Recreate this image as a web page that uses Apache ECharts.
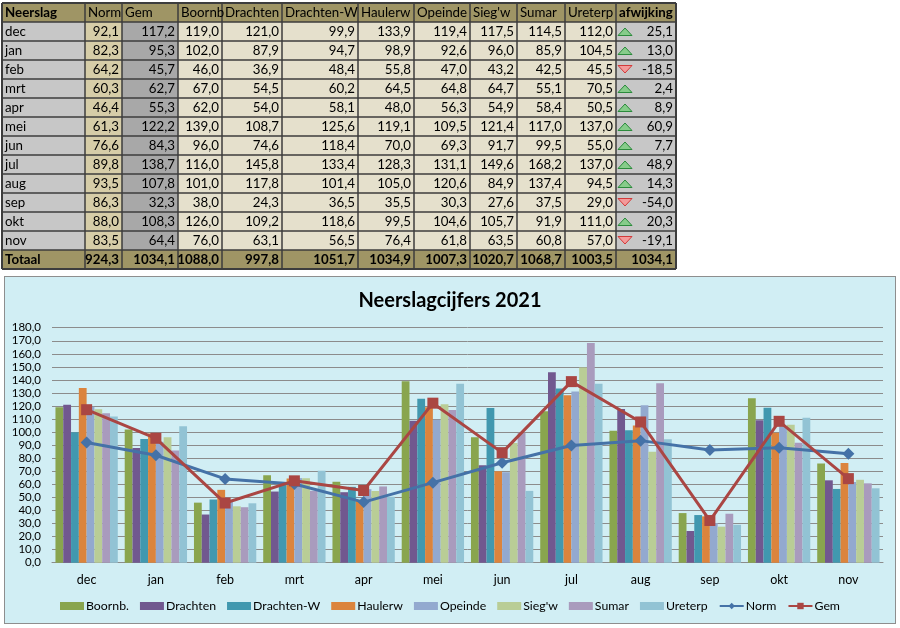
<!DOCTYPE html>
<html>
<head>
<meta charset="utf-8">
<script src="https://cdn.jsdelivr.net/npm/echarts@6/dist/echarts.min.js"></script>
<style>
  html, body { margin: 0; padding: 0; background: #ffffff; }
  #table { position: absolute; left: 0; top: 0; width: 900px; height: 274px; }
  #chart { position: absolute; left: 4px; top: 276px; width: 892px; height: 348px;
           box-sizing: border-box; border: 1px solid #8e8e8e; background: #d1eef4; }
</style>
</head>
<body>
<div id="table"></div>
<div id="chart"></div>
<script>
// ---------- data ----------
const months = ['dec','jan','feb','mrt','apr','mei','jun','jul','aug','sep','okt','nov'];
const norm      = [92.1, 82.3, 64.2, 60.3, 46.4, 61.3, 76.6, 89.8, 93.5, 86.3, 88.0, 83.5];
const gem       = [117.2, 95.3, 45.7, 62.7, 55.3, 122.2, 84.3, 138.7, 107.8, 32.3, 108.3, 64.4];
const boornb    = [119.0, 102.0, 46.0, 67.0, 62.0, 139.0, 96.0, 116.0, 101.0, 38.0, 126.0, 76.0];
const drachten  = [121.0, 87.9, 36.9, 54.5, 54.0, 108.7, 74.6, 145.8, 117.8, 24.3, 109.2, 63.1];
const drachtenW = [99.9, 94.7, 48.4, 60.2, 58.1, 125.6, 118.4, 133.4, 101.4, 36.5, 118.6, 56.5];
const haulerw   = [133.9, 98.9, 55.8, 64.5, 48.0, 119.1, 70.0, 128.3, 105.0, 35.5, 99.5, 76.4];
const opeinde   = [119.4, 92.6, 47.0, 64.8, 56.3, 109.5, 69.3, 131.1, 120.6, 30.3, 104.6, 61.8];
const siegw     = [117.5, 96.0, 43.2, 64.7, 54.9, 121.4, 91.7, 149.6, 84.9, 27.6, 105.7, 63.5];
const sumar     = [114.5, 85.9, 42.5, 55.1, 58.4, 117.0, 99.5, 168.2, 137.4, 37.5, 91.9, 60.8];
const ureterp   = [112.0, 104.5, 45.5, 70.5, 50.5, 137.0, 55.0, 137.0, 94.5, 29.0, 111.0, 57.0];
const afwijking = [25.1, 13.0, -18.5, 2.4, 8.9, 60.9, 7.7, 48.9, 14.3, -54.0, 20.3, -19.1];
const totals    = [924.3, 1034.1, 1088.0, 997.8, 1051.7, 1034.9, 1007.3, 1020.7, 1068.7, 1003.5, 1034.1];
const tableHeaders = ['Neerslag','Norm','Gem','Boornb','Drachten','Drachten-W','Haulerw','Opeinde',"Sieg'w",'Sumar','Ureterp','afwijking'];
const totalLabel = 'Totaal';
const stationNames = ['Boornb.','Drachten','Drachten-W','Haulerw','Opeinde',"Sieg'w",'Sumar','Ureterp'];
const stationData = [boornb, drachten, drachtenW, haulerw, opeinde, siegw, sumar, ureterp];
const lineNames = ['Norm','Gem'];
const chartTitle = 'Neerslagcijfers 2021';
const yMin = 0, yMax = 180, yStep = 10;

// ---------- styling ----------
const FONT = 'Lato, "Open Sans", "Liberation Sans", sans-serif';
const barColors = ['#89A54E','#71588F','#4198AF','#DB843D','#93A9CF','#B9CD96','#A99BBD','#92C3D4'];
const normColor = '#4572A7', gemColor = '#AA4643';
const fmt = v => v.toFixed(1).replace('.', ',');

// ---------- table (drawn with ECharts graphic elements) ----------
const colEdges = [2, 85, 122, 178, 222, 282, 358, 414, 470, 517, 565, 616, 676];
const rowTop = 3, rowH = 19;
const nRows = months.length + 2;
const headBg = '#9f9565', labelBg = '#c7c7c7', normBg = '#d6cda8', gemBg = '#a8a8a8', cellBg = '#e5e0cc', afwBg = '#c7c7c7';
const els = [];
function cellText(text, c, r, bold, alignRight) {
  const x = alignRight ? colEdges[c + 1] - 3 : colEdges[c] + 3;
  const y = rowTop + r * rowH + rowH / 2 + 0.5;
  els.push({ type: 'text', z: 10, style: {
    text: text, x: x, y: y, fill: '#000',
    font: (bold ? 'bold ' : '') + '13.3px ' + FONT,
    align: alignRight ? 'right' : 'left', textAlign: alignRight ? 'right' : 'left',
    verticalAlign: 'middle', textVerticalAlign: 'middle' } });
}
function cellRect(c, r, fill) {
  els.push({ type: 'rect', z: 1, shape: { x: colEdges[c], y: rowTop + r * rowH, width: colEdges[c + 1] - colEdges[c], height: rowH }, style: { fill: fill } });
}
// header
for (let c = 0; c < tableHeaders.length; c++) {
  cellRect(c, 0, headBg);
  cellText(tableHeaders[c], c, 0, c === 0 || c === tableHeaders.length - 1, false);
}
// body
const bodyCols = [norm, gem, boornb, drachten, drachtenW, haulerw, opeinde, siegw, sumar, ureterp, afwijking];
for (let i = 0; i < months.length; i++) {
  const r = i + 1;
  cellRect(0, r, labelBg);
  cellText(months[i], 0, r, false, false);
  for (let j = 0; j < bodyCols.length; j++) {
    const c = j + 1;
    const bg = c === 1 ? normBg : c === 2 ? gemBg : c === bodyCols.length ? afwBg : cellBg;
    cellRect(c, r, bg);
    cellText(fmt(bodyCols[j][i]), c, r, false, true);
  }
  // icon-set triangle
  const v = afwijking[i];
  const tx = colEdges[11] + 2, ty = rowTop + r * rowH + rowH / 2;
  if (v >= 0) {
    els.push({ type: 'polygon', z: 12, shape: { points: [[tx, ty + 4], [tx + 14, ty + 4], [tx + 7, ty - 3.5]] },
      style: { fill: '#86cc8a', stroke: '#2b8a3c', lineWidth: 1 } });
  } else {
    els.push({ type: 'polygon', z: 12, shape: { points: [[tx, ty - 4], [tx + 14, ty - 4], [tx + 7, ty + 3.5]] },
      style: { fill: '#f39a9a', stroke: '#d23a3a', lineWidth: 1 } });
  }
}
// totals row
const tr = nRows - 1;
cellRect(0, tr, headBg);
cellText(totalLabel, 0, tr, true, false);
for (let j = 0; j < totals.length; j++) {
  cellRect(j + 1, tr, headBg);
  cellText(fmt(totals[j]), j + 1, tr, true, true);
}
// grid lines
const tableBottom = rowTop + nRows * rowH;
for (let r = 0; r <= nRows; r++) {
  const y = rowTop + r * rowH;
  els.push({ type: 'line', z: 5, shape: { x1: colEdges[0], y1: y, x2: colEdges[colEdges.length - 1], y2: y },
    style: { stroke: '#3d3d3d', lineWidth: (r === 0 || r === nRows) ? 2 : 1.5 } });
}
for (let c = 0; c < colEdges.length; c++) {
  els.push({ type: 'line', z: 5, shape: { x1: colEdges[c], y1: rowTop, x2: colEdges[c], y2: tableBottom },
    style: { stroke: '#3d3d3d', lineWidth: (c === 0 || c === colEdges.length - 1) ? 2 : 1.5 } });
}
const tableChart = echarts.init(document.getElementById('table'));
tableChart.setOption({ animation: false, graphic: { elements: els } });

// ---------- chart ----------
const series = stationNames.map((name, k) => ({
  name: name, type: 'bar', data: stationData[k], barGap: '0%', barCategoryGap: '10%',
  itemStyle: { color: barColors[k] }, z: 2
}));
series.push({
  name: lineNames[0], type: 'line', data: norm, symbol: 'diamond', symbolSize: 12,
  lineStyle: { color: normColor, width: 3 }, itemStyle: { color: normColor }, z: 5
});
series.push({
  name: lineNames[1], type: 'line', data: gem, symbol: 'rect', symbolSize: 11,
  lineStyle: { color: gemColor, width: 3 }, itemStyle: { color: gemColor }, z: 6
});

const chart = echarts.init(document.getElementById('chart'));
chart.setOption({
  animation: false,
  title: { text: chartTitle, left: 'center', top: 9,
    textStyle: { fontFamily: FONT, fontWeight: 'bold', fontSize: 20, color: '#000' } },
  legend: {
    top: 318, left: 'center', itemWidth: 24, itemHeight: 8, itemGap: 11,
    textStyle: { fontFamily: FONT, fontSize: 12.3, color: '#000', padding: [0, 0, 0, -3] },
    data: stationNames.map(n => ({ name: n, icon: 'rect' })).concat(lineNames.map(n => ({ name: n })))
  },
  grid: { left: 47, right: 12, top: 50.7, bottom: 60.3 },
  xAxis: {
    type: 'category', data: months,
    axisLine: { lineStyle: { color: '#8c8c8c', width: 1 } },
    axisTick: { show: false },
    axisLabel: { margin: 11, color: '#000', fontFamily: FONT, fontSize: 12.5 }
  },
  yAxis: {
    type: 'value', min: yMin, max: yMax, interval: yStep,
    axisLine: { show: false }, axisTick: { show: false },
    axisLabel: { formatter: v => fmt(v), margin: 11, color: '#000', fontFamily: FONT, fontSize: 11.5 },
    splitLine: { lineStyle: { color: '#8c8c8c', width: 1 } }
  },
  series: series
});
</script>
</body>
</html>
